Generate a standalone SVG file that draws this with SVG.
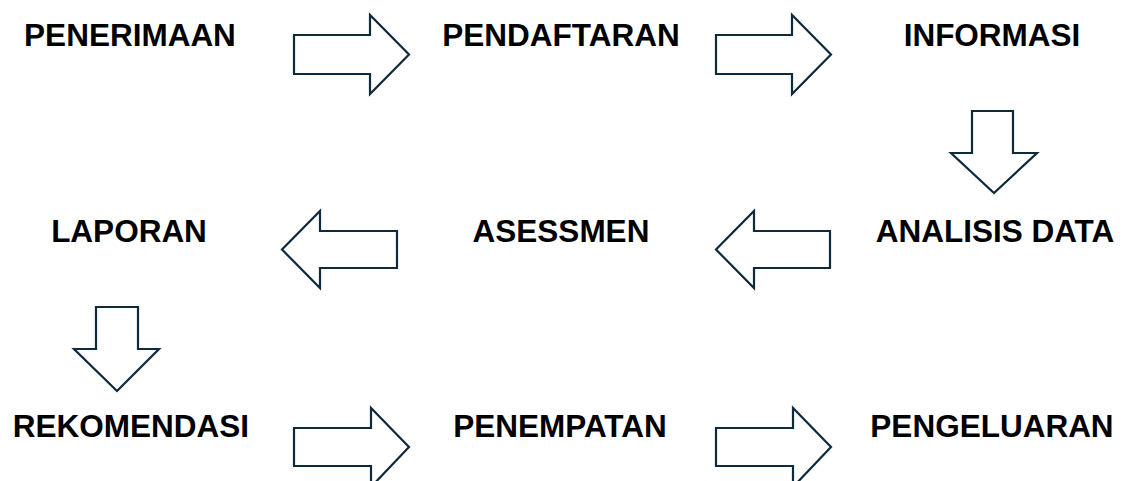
<svg xmlns="http://www.w3.org/2000/svg" width="1128" height="481" viewBox="0 0 1128 481">
<style>
.lbl{font-family:"Liberation Sans",Arial,sans-serif;font-weight:bold;font-size:31.5px;fill:#000;text-anchor:middle}
.arr{fill:#fff;stroke:#0e2a3b;stroke-width:2.2;stroke-linejoin:miter}
</style>
<rect width="1128" height="481" fill="#fff"/>
<g id="connectors">
<path class="arr" d="M294,35 H370 V15 L409,54.5 L370,94 V74 H294 Z"/>
<path class="arr" d="M716,35 H792 V15 L831,54.5 L792,94 V74 H716 Z"/>
<path class="arr" d="M972,111 H1013 V153 H1037 L994,193 L951,153 H972 Z"/>
<path class="arr" d="M397,231 H320 V211 L282,249.5 L320,288 V268 H397 Z"/>
<path class="arr" d="M830,231 H754 V211 L716,249.5 L754,288 V268 H830 Z"/>
<path class="arr" d="M96,307 H138 V349 H159 L117,391 L74,349 H96 Z"/>
<path class="arr" d="M294,428 H371 V408 L409,447 L371,487 V466 H294 Z"/>
<path class="arr" d="M716,428 H793 V408 L831,447 L793,487 V466 H716 Z"/>
</g>
<g id="n1"><text class="lbl" x="130" y="46">PENERIMAAN</text></g>
<g id="n2"><text class="lbl" x="561" y="46">PENDAFTARAN</text></g>
<g id="n3"><text class="lbl" x="992" y="46">INFORMASI</text></g>
<g id="n4"><text class="lbl" x="995" y="242">ANALISIS DATA</text></g>
<g id="n5"><text class="lbl" x="561" y="242">ASESSMEN</text></g>
<g id="n6"><text class="lbl" x="129" y="242">LAPORAN</text></g>
<g id="n7"><text class="lbl" x="131" y="437">REKOMENDASI</text></g>
<g id="n8"><text class="lbl" x="560" y="437">PENEMPATAN</text></g>
<g id="n9"><text class="lbl" x="992" y="437">PENGELUARAN</text></g>
</svg>
